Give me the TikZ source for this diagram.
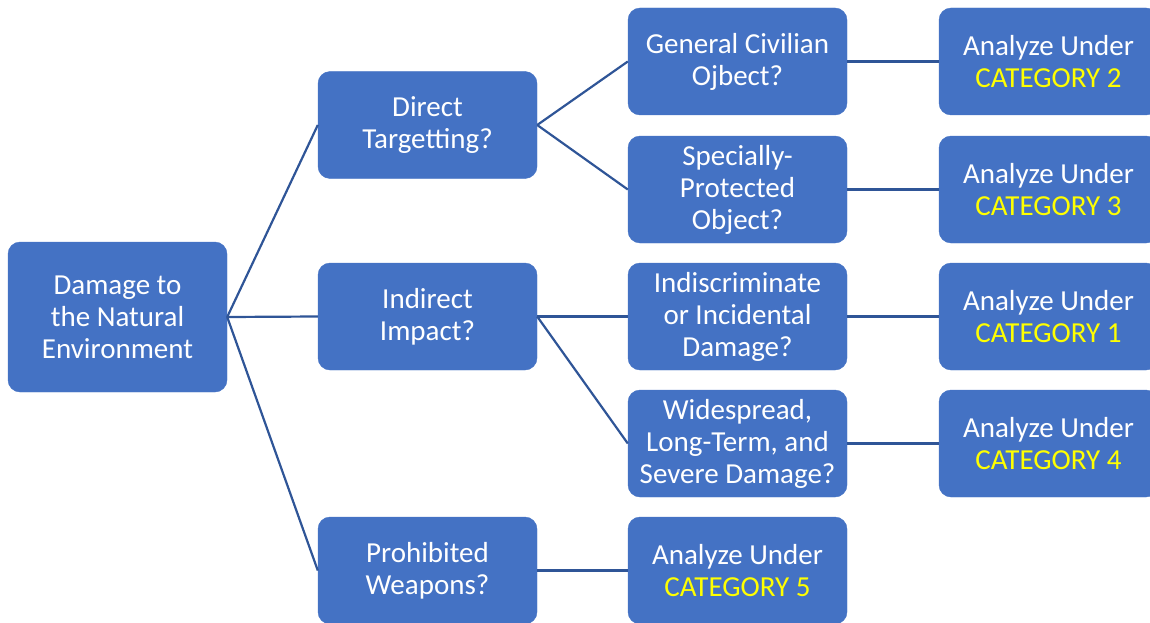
\documentclass[tikz,border=0pt]{standalone}
\usepackage{fontspec}
\setmainfont{Carlito}
\definecolor{boxblue}{HTML}{4472C4}
\definecolor{linkblue}{HTML}{2F5597}
\definecolor{catyellow}{HTML}{FFFF00}
\tikzset{
  box/.style={rectangle, rounded corners=12pt, fill=boxblue, draw=boxblue,
    minimum width=219pt, minimum height=107pt, inner sep=0pt,
    text=white, align=center, font=\fontsize{29}{32}\selectfont},
  link/.style={draw=linkblue, line width=2.2pt},
}
\newcommand{\cat}[1]{\textcolor{catyellow}{CATEGORY #1}}
\begin{document}
\begin{tikzpicture}[x=1pt,y=-1pt]
\useasboundingbox (0,0) rectangle (1150,623);
\clip (0,0) rectangle (1150,623);
\node[box, minimum height=150pt] (root) at (117.5,317) {Damage to\\the Natural\\Environment};
\node[box] (direct) at (427.5,125) {Direct\\Targetting?};
\node[box] (indirect) at (427.5,316.5) {Indirect\\Impact?};
\node[box] (prohib) at (427.5,570.5) {Prohibited\\Weapons?};
\node[box] (civ) at (737.5,61.5) {General Civilian\\Ojbect?};
\node[box] (spec) at (737.5,189.5) {Specially-\\Protected\\Object?};
\node[box] (indisc) at (737.5,316.5) {Indiscriminate\\or Incidental\\Damage?};
\node[box] (wide) at (737.5,443.5) {Widespread,\\Long-Term, and\\Severe Damage?};
\node[box] (c5) at (737.5,570.5) {Analyze Under\\\cat{5}};
\node[box] (c2) at (1048.5,61.5) {Analyze Under\\\cat{2}};
\node[box] (c3) at (1048.5,189.5) {Analyze Under\\\cat{3}};
\node[box] (c1) at (1048.5,316.5) {Analyze Under\\\cat{1}};
\node[box] (c4) at (1048.5,443.5) {Analyze Under\\\cat{4}};
\draw[link] (root.east) -- (direct.west);
\draw[link] (root.east) -- (indirect.west);
\draw[link] (root.east) -- (prohib.west);
\draw[link] (direct.east) -- (civ.west);
\draw[link] (direct.east) -- (spec.west);
\draw[link] (indirect.east) -- (indisc.west);
\draw[link] (indirect.east) -- (wide.west);
\draw[link] (prohib.east) -- (c5.west);
\draw[link] (civ.east) -- (c2.west);
\draw[link] (spec.east) -- (c3.west);
\draw[link] (indisc.east) -- (c1.west);
\draw[link] (wide.east) -- (c4.west);
\end{tikzpicture}
\end{document}
